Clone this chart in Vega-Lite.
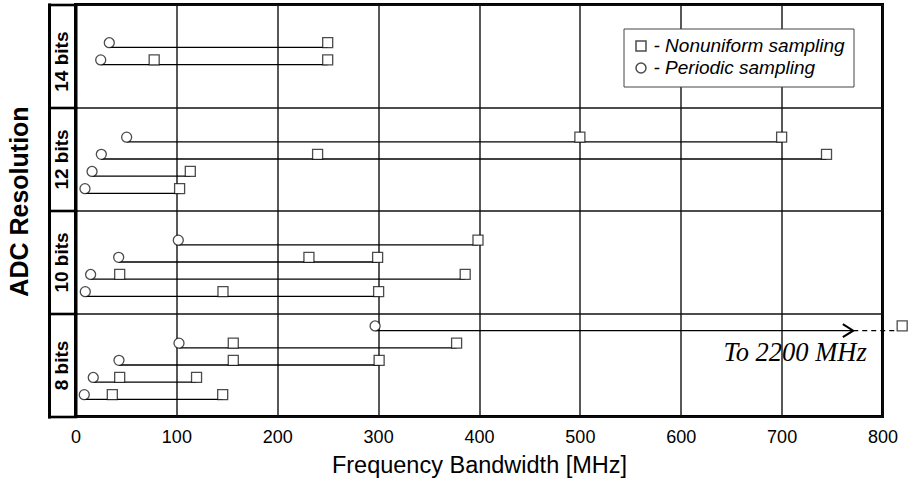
{
  "$schema": "https://vega.github.io/schema/vega-lite/v6.json",
  "autosize": "none",
  "width": 807,
  "height": 412,
  "padding": {"left": 75.5, "top": 4.5, "right": 26.5, "bottom": 64.5},
  "background": "white",
  "config": {
    "font": "Liberation Sans",
    "view": {"stroke": "black", "strokeWidth": 3}
  },
  "datasets": {
    "segs": [
      {"slot": 21.5, "start": 33.5, "end": 250, "style": "solid"},
      {"slot": 20.5, "start": 25, "end": 250, "style": "solid"},
      {"slot": 16, "start": 50.7, "end": 700, "style": "solid"},
      {"slot": 15, "start": 25.6, "end": 744.5, "style": "solid"},
      {"slot": 14, "start": 16.4, "end": 113.8, "style": "solid"},
      {"slot": 13, "start": 9.4, "end": 103.2, "style": "solid"},
      {"slot": 10, "start": 101.9, "end": 399, "style": "solid"},
      {"slot": 9, "start": 42.8, "end": 299.5, "style": "solid"},
      {"slot": 8, "start": 15, "end": 386.3, "style": "solid"},
      {"slot": 7, "start": 9.7, "end": 300.5, "style": "solid"},
      {"slot": 5, "start": 297, "end": 771, "style": "solid"},
      {"slot": 5, "start": 771, "end": 816, "style": "dashed"},
      {"slot": 4, "start": 102.6, "end": 377.8, "style": "solid"},
      {"slot": 3, "start": 43.1, "end": 301, "style": "solid"},
      {"slot": 2, "start": 17.6, "end": 120, "style": "solid"},
      {"slot": 1, "start": 8.7, "end": 145.9, "style": "solid"}
    ],
    "pts": [
      {"slot": 21.5, "mhz": 33.5, "kind": "Periodic sampling"},
      {"slot": 20.5, "mhz": 25, "kind": "Periodic sampling"},
      {"slot": 16, "mhz": 50.7, "kind": "Periodic sampling"},
      {"slot": 15, "mhz": 25.6, "kind": "Periodic sampling"},
      {"slot": 14, "mhz": 16.4, "kind": "Periodic sampling"},
      {"slot": 13, "mhz": 9.4, "kind": "Periodic sampling"},
      {"slot": 10, "mhz": 101.9, "kind": "Periodic sampling"},
      {"slot": 9, "mhz": 42.8, "kind": "Periodic sampling"},
      {"slot": 8, "mhz": 15, "kind": "Periodic sampling"},
      {"slot": 7, "mhz": 9.7, "kind": "Periodic sampling"},
      {"slot": 5, "mhz": 297, "kind": "Periodic sampling"},
      {"slot": 4, "mhz": 102.6, "kind": "Periodic sampling"},
      {"slot": 3, "mhz": 43.1, "kind": "Periodic sampling"},
      {"slot": 2, "mhz": 17.6, "kind": "Periodic sampling"},
      {"slot": 1, "mhz": 8.7, "kind": "Periodic sampling"},
      {"slot": 21.5, "mhz": 250, "kind": "Nonuniform sampling"},
      {"slot": 20.5, "mhz": 78, "kind": "Nonuniform sampling"},
      {"slot": 20.5, "mhz": 250, "kind": "Nonuniform sampling"},
      {"slot": 16, "mhz": 500, "kind": "Nonuniform sampling"},
      {"slot": 16, "mhz": 700, "kind": "Nonuniform sampling"},
      {"slot": 15, "mhz": 240, "kind": "Nonuniform sampling"},
      {"slot": 15, "mhz": 744.5, "kind": "Nonuniform sampling"},
      {"slot": 14, "mhz": 113.8, "kind": "Nonuniform sampling"},
      {"slot": 13, "mhz": 103.2, "kind": "Nonuniform sampling"},
      {"slot": 10, "mhz": 399, "kind": "Nonuniform sampling"},
      {"slot": 9, "mhz": 231.4, "kind": "Nonuniform sampling"},
      {"slot": 9, "mhz": 299.5, "kind": "Nonuniform sampling"},
      {"slot": 8, "mhz": 43.8, "kind": "Nonuniform sampling"},
      {"slot": 8, "mhz": 386.3, "kind": "Nonuniform sampling"},
      {"slot": 7, "mhz": 146.2, "kind": "Nonuniform sampling"},
      {"slot": 7, "mhz": 300.5, "kind": "Nonuniform sampling"},
      {"slot": 5, "mhz": 819.5, "kind": "Nonuniform sampling"},
      {"slot": 4, "mhz": 156.4, "kind": "Nonuniform sampling"},
      {"slot": 4, "mhz": 377.8, "kind": "Nonuniform sampling"},
      {"slot": 3, "mhz": 156.4, "kind": "Nonuniform sampling"},
      {"slot": 3, "mhz": 301, "kind": "Nonuniform sampling"},
      {"slot": 2, "mhz": 43.8, "kind": "Nonuniform sampling"},
      {"slot": 2, "mhz": 120, "kind": "Nonuniform sampling"},
      {"slot": 1, "mhz": 36.5, "kind": "Nonuniform sampling"},
      {"slot": 1, "mhz": 145.9, "kind": "Nonuniform sampling"}
    ],
    "arrow": [{"slot": 5, "mhz": 771}],
    "notes": [{"slot": 3.25, "mhz": 784.4, "label": "To 2200 MHz"}]
  },
  "resolve": {"axis": {"y": "independent"}, "legend": {"shape": "independent"}},
  "layer": [
    {
      "data": {"name": "segs"},
      "mark": {"type": "rule", "color": "black", "strokeWidth": 1.3},
      "encoding": {
        "x": {
          "field": "start", "type": "quantitative", "scale": {"domain": [0, 800], "nice": false},
          "axis": {
            "title": "Frequency Bandwidth [MHz]",
            "values": [0, 100, 200, 300, 400, 500, 600, 700, 800],
            "ticks": false, "domain": false,
            "grid": true, "gridColor": "#111111", "gridWidth": 1.4, "gridOpacity": 1,
            "labelFontSize": 18, "labelColor": "black", "labelPadding": 12, "labelFlush": false, "labelOverlap": false,
            "titleFontSize": 23.5, "titleFontWeight": "normal", "titleColor": "black", "titlePadding": 7
          }
        },
        "x2": {"field": "end"},
        "y": {
          "field": "slot", "type": "quantitative",
          "scale": {"domain": [0, 24], "nice": false, "zero": false},
          "axis": {
            "orient": "left", "title": null, "values": [0, 6, 12, 18, 24],
            "labels": false, "ticks": true, "tickSize": 26.5, "tickWidth": 2.6, "tickColor": "black", "tickCap": "square",
            "grid": true, "gridColor": "#111111", "gridWidth": 1.4, "gridOpacity": 1,
            "domain": true, "domainColor": "black", "domainWidth": 3
          }
        },
        "strokeDash": {"field": "style", "type": "nominal", "scale": {"domain": ["solid", "dashed"], "range": [[1, 0], [5, 4]]}, "legend": null}
      }
    },
    {
      "data": {"name": "arrow"},
      "mark": {"type": "point", "shape": "M-1.6,-1L0,0L-1.6,1", "size": 169, "filled": false, "stroke": "black", "strokeWidth": 2, "opacity": 1},
      "encoding": {
        "x": {"field": "mhz", "type": "quantitative", "scale": {"domain": [0, 800], "nice": false}},
        "y": {"field": "slot", "type": "quantitative", "scale": {"domain": [0, 24], "nice": false, "zero": false}, "axis": null}
      }
    },
    {
      "data": {"name": "pts"},
      "mark": {"type": "point", "filled": true, "color": "white", "opacity": 1, "size": 100, "yOffset": -4.7},
      "encoding": {
        "x": {"field": "mhz", "type": "quantitative", "scale": {"domain": [0, 800], "nice": false}},
        "y": {"field": "slot", "type": "quantitative", "scale": {"domain": [0, 24], "nice": false, "zero": false}, "axis": null},
        "shape": {"field": "kind", "type": "nominal", "scale": {"domain": ["Nonuniform sampling", "Periodic sampling"], "range": ["square", "circle"]}, "legend": null}
      }
    },
    {
      "data": {"name": "pts"},
      "mark": {"type": "point", "filled": false, "color": "black", "strokeWidth": 1.3, "size": 100, "yOffset": -4.7},
      "encoding": {
        "x": {"field": "mhz", "type": "quantitative", "scale": {"domain": [0, 800], "nice": false}},
        "y": {
          "field": "slot", "type": "quantitative",
          "scale": {"domain": [0, 24], "nice": false, "zero": false},
          "axis": {
            "orient": "left", "offset": 26.5, "values": [3, 9, 15, 20.7],
            "labelExpr": "datum.value < 6 ? '8 bits' : datum.value < 12 ? '10 bits' : datum.value < 18 ? '12 bits' : '14 bits'",
            "labelAngle": 270, "labelAlign": "center", "labelBaseline": "middle", "labelPadding": -12.5,
            "labelFontSize": 19, "labelFontWeight": "bold", "labelColor": "black", "labelOverlap": false, "labelBound": false,
            "ticks": false, "tickSize": 0, "grid": false,
            "domain": true, "domainColor": "black", "domainWidth": 3, "domainCap": "square",
            "title": "ADC Resolution", "titleFontSize": 25, "titleFontWeight": "bold", "titleColor": "black", "titlePadding": 17, "titleY": 196.5
          }
        },
        "shape": {
          "field": "kind", "type": "nominal",
          "scale": {"domain": ["Nonuniform sampling", "Periodic sampling"], "range": ["square", "circle"]},
          "legend": {
            "orient": "none", "legendX": 548, "legendY": 24, "title": null,
            "labelExpr": "'- ' + datum.label",
            "labelFontSize": 19, "labelFontStyle": "italic", "labelColor": "black", "labelLimit": 400,
            "strokeColor": "#444444", "fillColor": "white", "padding": 8, "labelOffset": 3, "rowPadding": 2
          }
        }
      }
    },
    {
      "data": {"name": "notes"},
      "mark": {"type": "text", "align": "right", "baseline": "alphabetic", "font": "Liberation Serif", "fontStyle": "italic", "fontSize": 26.5, "color": "black"},
      "encoding": {
        "x": {"field": "mhz", "type": "quantitative", "scale": {"domain": [0, 800], "nice": false}},
        "y": {"field": "slot", "type": "quantitative", "scale": {"domain": [0, 24], "nice": false, "zero": false}, "axis": null},
        "text": {"field": "label"}
      }
    }
  ]
}
